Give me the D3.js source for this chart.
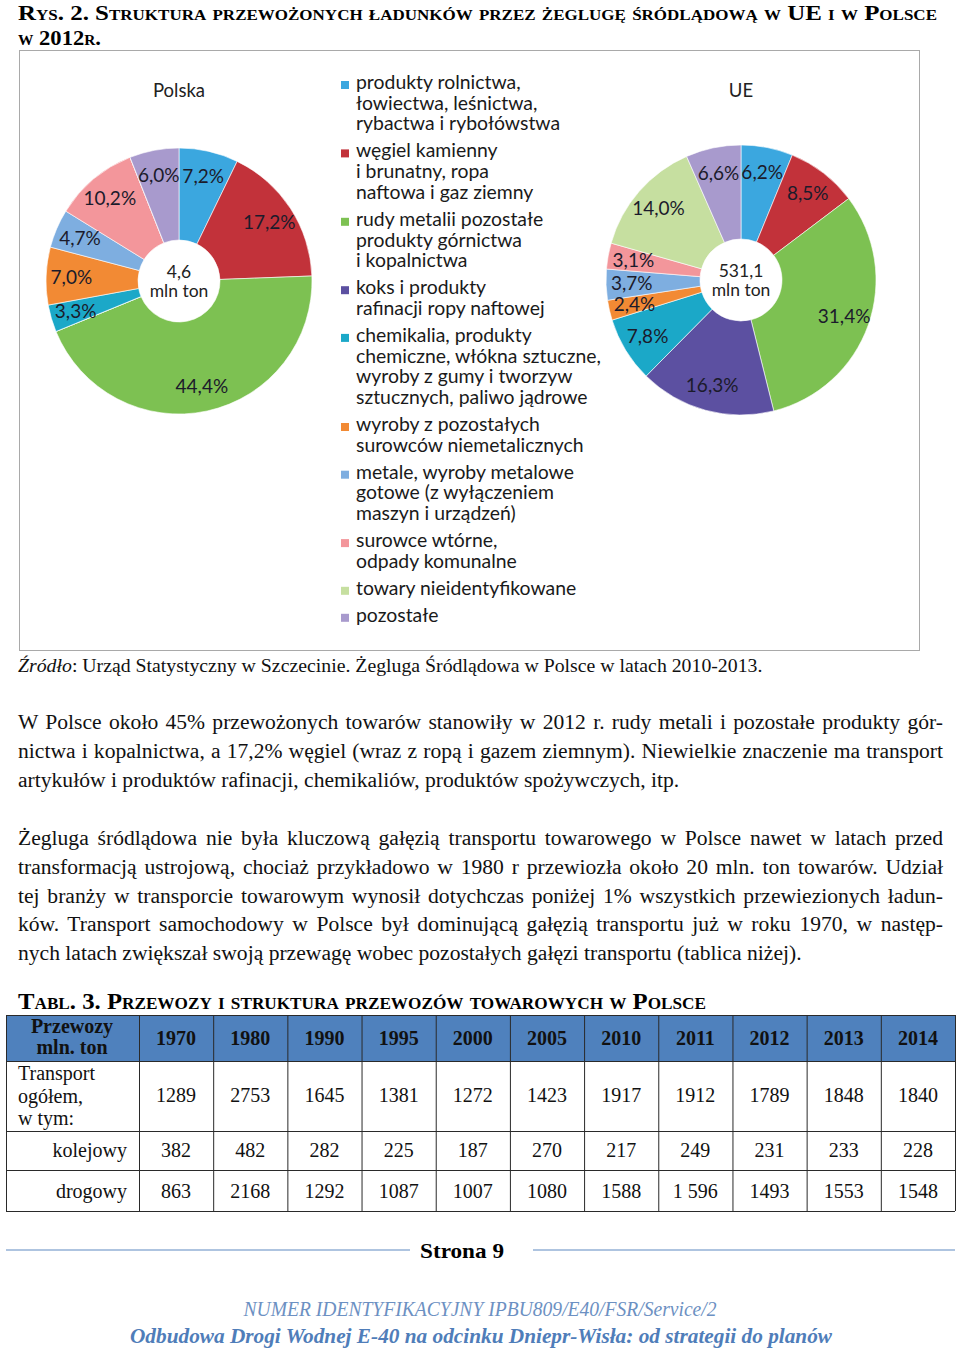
<!DOCTYPE html>
<html><head><meta charset="utf-8">
<script src="https://cdn.jsdelivr.net/npm/d3@7"></script>
<style>
html,body{margin:0;padding:0;background:#fff;}
svg{display:block;}
</style></head>
<body>
<script>
// ---------------- DATA ----------------
const categories = [
  ["produkty rolnictwa,", "łowiectwa, leśnictwa,", "rybactwa i rybołówstwa"],
  ["węgiel kamienny", "i brunatny, ropa", "naftowa i gaz ziemny"],
  ["rudy metalii pozostałe", "produkty górnictwa", "i kopalnictwa"],
  ["koks i produkty", "rafinacji ropy naftowej"],
  ["chemikalia, produkty", "chemiczne, włókna sztuczne,", "wyroby z gumy i tworzyw", "sztucznych, paliwo jądrowe"],
  ["wyroby z pozostałych", "surowców niemetalicznych"],
  ["metale, wyroby metalowe", "gotowe (z wyłączeniem", "maszyn i urządzeń)"],
  ["surowce wtórne,", "odpady komunalne"],
  ["towary nieidentyfikowane"],
  ["pozostałe"]
];
const colors = ["#3BA7DF", "#C2323A", "#7DC152", "#5C50A1", "#1BA8C8", "#F28A34", "#7EAEE0", "#F3969B", "#C6DFA0", "#A89ACD"];
const polskaValues = [7.2, 17.2, 44.4, 0, 3.3, 7.0, 4.7, 10.2, 0, 6.0];
const ueValues     = [6.2, 8.5, 31.4, 16.3, 7.8, 2.4, 3.7, 3.1, 14.0, 6.6];
const pieTitles = ["Polska", "UE"];
const pieTotals = ["4,6", "531,1"];

const years    = [1970, 1980, 1990, 1995, 2000, 2005, 2010, 2011, 2012, 2013, 2014];
const ogolem   = [1289, 2753, 1645, 1381, 1272, 1423, 1917, 1912, 1789, 1848, 1840];
const kolejowy = [382, 482, 282, 225, 187, 270, 217, 249, 231, 233, 228];
const drogowy  = ["863", "2168", "1292", "1087", "1007", "1080", "1588", "1 596", "1493", "1553", "1548"];

// ---------------- PAGE ----------------
const W = 960, H = 1352;
const svg = d3.select("body").append("svg").attr("width", W).attr("height", H);
svg.append("rect").attr("width", W).attr("height", H).attr("fill", "#fff");

const SERIF = "'Liberation Serif','Times New Roman',serif";
const SANS = "Lato,'Open Sans',sans-serif";

function line(g, str, x, y, o) {
  o = o || {};
  const t = g.append("text").attr("x", x).attr("y", y)
    .attr("font-family", o.family || SERIF)
    .attr("font-size", o.size || 20)
    .attr("fill", o.fill || "#111")
    .attr("text-anchor", o.anchor || "start")
    .text(str);
  if (o.weight) t.attr("font-weight", o.weight);
  if (o.style) t.attr("font-style", o.style);
  if (o.variant) t.style("font-variant", o.variant);
  if (o.len) t.attr("textLength", o.len).attr("lengthAdjust", o.adjust || "spacing");
  if (o.justify) {
    const len = t.node().getComputedTextLength();
    const n = (str.match(/ /g) || []).length;
    if (n) t.style("word-spacing", ((o.justify - len) / n) + "px");
  }
  return t;
}

// Title (one text element, two lines)
const title = svg.append("text").attr("font-family", SERIF).attr("font-size", 22).attr("font-weight", "bold")
  .style("font-variant", "small-caps").attr("fill", "#000");
title.append("tspan").attr("x", 18).attr("y", 20)
  .attr("textLength", 919).attr("lengthAdjust", "spacingAndGlyphs")
  .text("Rys. 2. Struktura przewożonych ładunków przez żeglugę śródlądową w UE i w Polsce");
title.append("tspan").attr("x", 18).attr("y", 45)
  .attr("textLength", 83).attr("lengthAdjust", "spacingAndGlyphs")
  .text("w 2012r.");

// Chart frame
svg.append("rect").attr("x", 19.5).attr("y", 50.5).attr("width", 900).attr("height", 600)
  .attr("fill", "none").attr("stroke", "#a9a9a9").attr("stroke-width", 1);

// Pies
const fmt = v => v.toFixed(1).replace(".", ",") + "%";
const pieGen = d3.pie().sort(null).value(d => d);

function drawPie(values, cx, cy, R, title, total) {
  const arc = d3.arc().innerRadius(41).outerRadius(R);
  const labelArc = d3.arc().innerRadius(R * 0.81).outerRadius(R * 0.81);
  const g = svg.append("g").attr("transform", `translate(${cx},${cy})`);
  const arcs = pieGen(values);
  g.selectAll("path").data(arcs).join("path")
    .attr("d", arc).attr("fill", (d, i) => colors[i])
    .attr("stroke", "#fff").attr("stroke-width", 0.6);
  g.selectAll("text.lbl").data(arcs.filter(d => d.data > 0)).join("text")
    .attr("class", "lbl")
    .attr("transform", d => `translate(${labelArc.centroid(d)})`)
    .attr("text-anchor", "middle").attr("dy", "0.35em")
    .attr("font-family", SANS).attr("font-size", 19).attr("fill", "#1b1b2b")
    .text(d => fmt(d.data));
  line(g, title, 0, 97 - cy, {family: SANS, size: 18.5, anchor: "middle", fill: "#222"});
  const c = g.append("text").attr("font-family", SANS).attr("font-size", 17.5).attr("fill", "#222").attr("text-anchor", "middle");
  c.append("tspan").attr("x", 0).attr("y", -3).text(total);
  c.append("tspan").attr("x", 0).attr("y", 16).text("mln ton");
}
drawPie(polskaValues, 179, 281, 133, pieTitles[0], pieTotals[0]);
drawPie(ueValues, 741, 280, 135, pieTitles[1], pieTotals[1]);

// Legend
const lg = svg.append("g");
let by = 89;
categories.forEach((lines, i) => {
  lg.append("rect").attr("x", 341).attr("y", by - 8).attr("width", 8).attr("height", 8).attr("fill", colors[i]);
  lines.forEach((s, j) => {
    line(lg, s, 356, by + j * 20.7, {family: SANS, size: 19.4, fill: "#1a1a1a"});
  });
  by += (lines.length - 1) * 20.7 + 27;
});

// Caption
const cap = svg.append("text").attr("x", 18).attr("y", 672).attr("font-family", SERIF).attr("font-size", 19.8).attr("fill", "#111");
cap.append("tspan").attr("font-style", "italic").text("Źródło");
cap.append("tspan").text(": Urząd Statystyczny w Szczecinie. Żegluga Śródlądowa w Polsce w latach 2010-2013.");

// Paragraphs
const para1 = [
  "W Polsce około 45% przewożonych towarów stanowiły w 2012 r. rudy metali i pozostałe produkty gór-",
  "nictwa i kopalnictwa, a 17,2% węgiel (wraz z ropą i gazem ziemnym). Niewielkie znaczenie ma transport",
  "artykułów i produktów rafinacji, chemikaliów, produktów spożywczych, itp."
];
const para2 = [
  "Żegluga śródlądowa nie była kluczową gałęzią transportu towarowego w Polsce nawet w latach przed",
  "transformacją ustrojową, chociaż przykładowo w 1980 r przewiozła około 20 mln. ton towarów. Udział",
  "tej branży w transporcie towarowym wynosił dotychczas poniżej 1% wszystkich przewiezionych ładun-",
  "ków. Transport samochodowy w Polsce był dominującą gałęzią transportu już w roku 1970, w następ-",
  "nych latach zwiększał swoją przewagę wobec pozostałych gałęzi transportu (tablica niżej)."
];
para1.forEach((s, i) => line(svg, s, 18, 729 + i * 29, {size: 21.6, justify: i < para1.length - 1 ? 925 : null}));
para2.forEach((s, i) => line(svg, s, 18, 845 + i * 28.8, {size: 21.6, justify: i < para2.length - 1 ? 925 : null}));

// Table title
line(svg, "Tabl. 3. Przewozy i struktura przewozów towarowych w Polsce", 18, 1009,
  {size: 23, weight: "bold", variant: "small-caps", len: 688, adjust: "spacingAndGlyphs", fill: "#000"});

// Table
const tx0 = 6, tx1 = 139, tx2 = 955;
const rowsY = [1015, 1061, 1131, 1170, 1211];
const xb = d3.scaleBand().domain(years).range([tx1, tx2]);
const tg = svg.append("g");
tg.append("rect").attr("x", tx0).attr("y", rowsY[0]).attr("width", tx2 - tx0).attr("height", rowsY[1] - rowsY[0]).attr("fill", "#4F81BD");
const gridC = "#2a2a2a";
rowsY.forEach(y => tg.append("line").attr("x1", tx0).attr("x2", tx2).attr("y1", y + 0.5).attr("y2", y + 0.5).attr("stroke", gridC).attr("stroke-width", 1));
[tx0, tx1].concat(years.map(y => xb(y) + xb.bandwidth())).forEach(x =>
  tg.append("line").attr("x1", x + 0.5).attr("x2", x + 0.5).attr("y1", rowsY[0]).attr("y2", rowsY[4]).attr("stroke", gridC).attr("stroke-width", 1));
const TS = 20;
const hd = tg.append("text").attr("font-family", SERIF).attr("font-size", TS).attr("font-weight", "bold").attr("fill", "#111").attr("text-anchor", "middle");
hd.append("tspan").attr("x", 72).attr("y", 1033).text("Przewozy");
hd.append("tspan").attr("x", 72).attr("y", 1054).text("mln. ton");
years.forEach(y => line(tg, String(y), xb(y) + xb.bandwidth() / 2, 1045, {size: TS, weight: "bold", anchor: "middle", fill: "#111"}));
const rl = tg.append("text").attr("font-family", SERIF).attr("font-size", TS).attr("fill", "#111");
["Transport", "ogółem,", "w tym:"].forEach((s, i) => rl.append("tspan").attr("x", 18).attr("y", 1080 + i * 22.5).text(s));
line(tg, "kolejowy", 127, 1157, {size: TS, anchor: "end"});
line(tg, "drogowy", 127, 1198, {size: TS, anchor: "end"});
years.forEach((y, i) => {
  const cx = xb(y) + xb.bandwidth() / 2;
  line(tg, String(ogolem[i]), cx, 1102, {size: TS, anchor: "middle"});
  line(tg, String(kolejowy[i]), cx, 1157, {size: TS, anchor: "middle"});
  line(tg, drogowy[i], cx, 1198, {size: TS, anchor: "middle"});
});

// Footer
svg.append("line").attr("x1", 6).attr("x2", 410).attr("y1", 1250).attr("y2", 1250).attr("stroke", "#93B1D6").attr("stroke-width", 1.5);
svg.append("line").attr("x1", 533).attr("x2", 955).attr("y1", 1250).attr("y2", 1250).attr("stroke", "#93B1D6").attr("stroke-width", 1.5);
line(svg, "Strona 9", 462, 1258, {size: 21, weight: "bold", anchor: "middle", fill: "#000", len: 84, adjust: "spacingAndGlyphs"});
line(svg, "NUMER IDENTYFIKACYJNY IPBU809/E40/FSR/Service/2", 480, 1316,
  {size: 20, style: "italic", anchor: "middle", fill: "#6C90C2", len: 473, adjust: "spacingAndGlyphs"});
line(svg, "Odbudowa Drogi Wodnej E-40 na odcinku Dniepr-Wisła: od strategii do planów", 481, 1343,
  {size: 20, style: "italic", weight: "bold", anchor: "middle", fill: "#4F7DB9", len: 702, adjust: "spacingAndGlyphs"});
</script>
</body></html>
